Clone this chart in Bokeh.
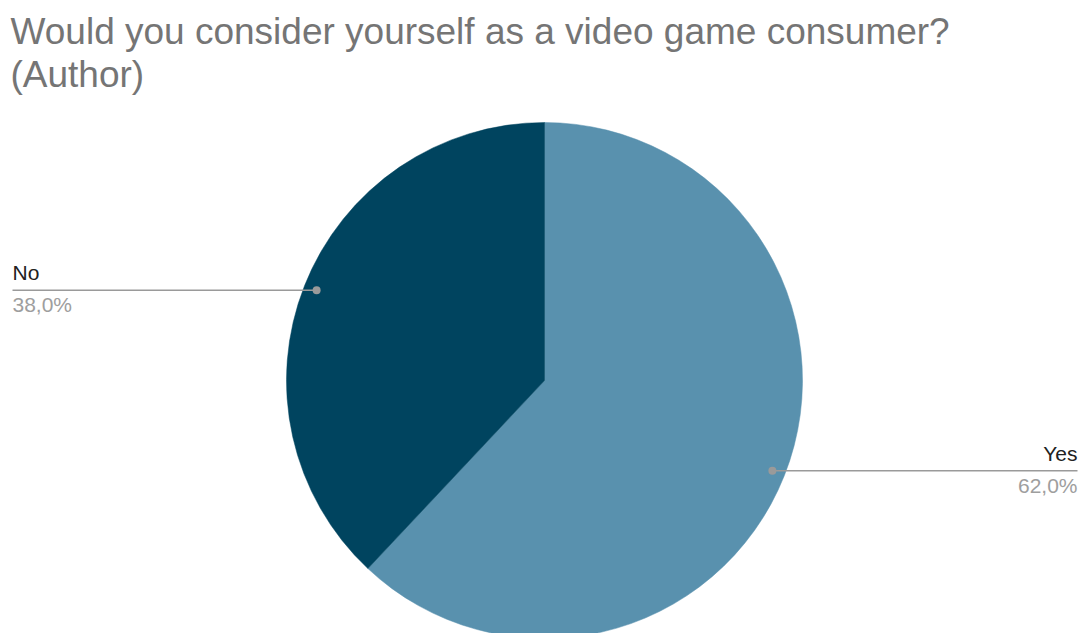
import math
from bokeh.plotting import figure
from bokeh.models import Range1d, ColumnDataSource
from bokeh.core.properties import value
from bokeh.embed import file_html
from bokeh.resources import INLINE

# ---- data ----
labels = ["Yes", "No"]
values = [62.0, 38.0]
colors = ["#5991AE", "#00445F"]
title_lines = ["Would you consider yourself as a video game consumer?", "(Author)"]

W, H = 1084, 633
FONT = value("Liberation Sans")

p = figure(width=W, height=H, output_backend="svg", toolbar_location=None,
           x_range=Range1d(0, W), y_range=Range1d(0, H), min_border=0)
p.axis.visible = False
p.grid.visible = False
p.outline_line_color = None
p.background_fill_color = "white"
p.border_fill_color = "white"

def Y(py):
    return H - py

cx, cy, R = 544, Y(380), 258
total = sum(values)

# Yes goes clockwise from top, No fills the rest (counterclockwise from top)
starts, ends, mids = [], [], []
ang = 90.0
for v in values:
    sweep = 360.0 * v / total
    end = ang
    start = ang - sweep
    starts.append(math.radians(start))
    ends.append(math.radians(end))
    mids.append(math.radians((start + end) / 2))
    ang = start

src = ColumnDataSource(dict(start=starts, end=ends, color=colors))
p.wedge(x=cx, y=cy, radius=R, start_angle="start", end_angle="end",
        fill_color="color", line_color="color", line_width=0.5, source=src)

# labels with leader lines
for lab, v, m in zip(labels, values, mids):
    dx = cx + 0.95 * R * math.cos(m)
    dy = cy + 0.95 * R * math.sin(m)
    right = math.cos(m) > 0
    ex = 1077 if right else 12
    p.line([dx, ex], [dy, dy], line_color="#9a9a9a", line_width=1.6)
    p.scatter([dx], [dy], size=8, fill_color="#9a9a9a", line_color=None)
    align = "right" if right else "left"
    p.text([ex], [dy + 6], text=[lab], text_font=FONT, text_font_size="21px",
           text_color="#212121", text_align=align, text_baseline="bottom")
    pct = f"{v:.1f}%".replace(".", ",")
    p.text([ex], [dy - 3], text=[pct], text_font=FONT, text_font_size="21px",
           text_color="#9e9e9e", text_align=align, text_baseline="top")

# title
for i, t in enumerate(title_lines):
    p.text([10], [Y(10 + 43 * i)], text=[t], text_font=FONT, text_font_size="37px",
           text_color="#757575", text_align="left", text_baseline="top")

open("out.html", "w").write(file_html(p, INLINE))
